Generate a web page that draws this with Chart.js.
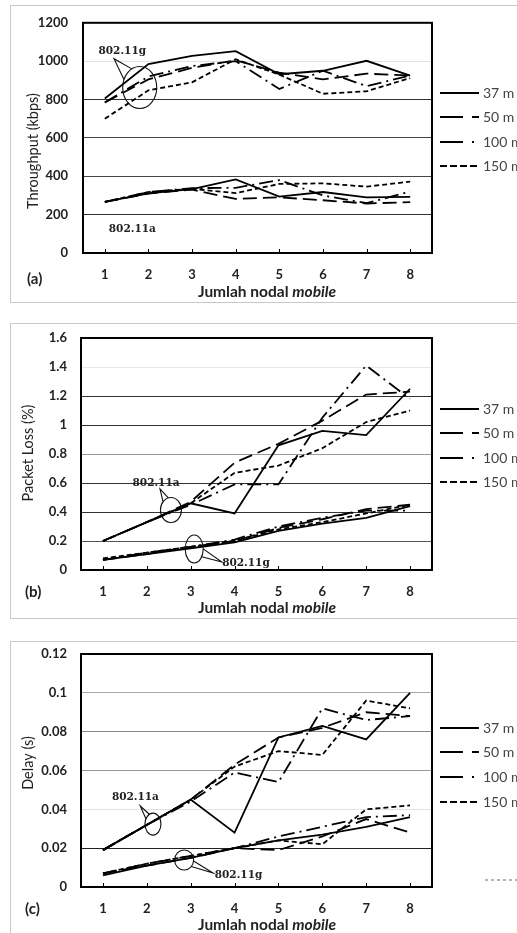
<!DOCTYPE html>
<html><head><meta charset="utf-8">
<script src="https://cdn.jsdelivr.net/npm/chart.js@4/dist/chart.umd.min.js"></script>
<style>
body{margin:0;background:#fff;width:517px;height:933px;overflow:hidden;position:relative;}
.panel{position:absolute;left:10px;width:520px;border:1px solid #c8c8c8;}
canvas{position:absolute;left:0;}
</style></head><body>
<div class="panel" style="top:5px;height:296px"></div>
<div class="panel" style="top:323px;height:294px"></div>
<div class="panel" style="top:641px;height:400px"></div>
<canvas id="cA" width="517" height="302" style="top:0px"></canvas>
<canvas id="cB" width="517" height="310" style="top:310px"></canvas>
<canvas id="cC" width="517" height="303" style="top:630px"></canvas>
<script>
// ---------- DATA ----------
const categories = ['1','2','3','4','5','6','7','8'];
const seriesLabels = ['37 m','50 m','100 m','150 m'];

// (a) Throughput (kbps)
const thrG_37  = [805, 985, 1028, 1052, 932, 950, 1002, 925];
const thrG_50  = [785, 905, 965, 1005, 940, 905, 935, 925];
const thrG_100 = [785, 920, 975, 1000, 855, 950, 870, 925];
const thrG_150 = [700, 848, 890, 1010, 930, 830, 843, 912];
const thrA_37  = [266, 311, 333, 384, 294, 318, 290, 293];
const thrA_50  = [266, 310, 330, 282, 290, 275, 258, 265];
const thrA_100 = [266, 318, 338, 340, 380, 300, 260, 320];
const thrA_150 = [266, 318, 335, 312, 360, 363, 346, 372];

// (b) Packet Loss (%)
const plA_37  = [0.20, 0.33, 0.46, 0.39, 0.86, 0.96, 0.93, 1.25];
const plA_50  = [0.20, 0.33, 0.47, 0.74, 0.87, 1.03, 1.21, 1.23];
const plA_100 = [0.20, 0.33, 0.45, 0.59, 0.59, 1.05, 1.41, 1.18];
const plA_150 = [0.20, 0.33, 0.46, 0.67, 0.72, 0.84, 1.02, 1.10];
const plG_37  = [0.07, 0.11, 0.15, 0.19, 0.27, 0.32, 0.36, 0.44];
const plG_50  = [0.07, 0.11, 0.16, 0.20, 0.29, 0.35, 0.42, 0.45];
const plG_100 = [0.07, 0.12, 0.16, 0.21, 0.30, 0.36, 0.41, 0.41];
const plG_150 = [0.08, 0.12, 0.16, 0.20, 0.28, 0.33, 0.39, 0.45];

// (c) Delay (s)
const dlA_37  = [0.019, 0.032, 0.045, 0.028, 0.077, 0.083, 0.076, 0.100];
const dlA_50  = [0.019, 0.032, 0.045, 0.063, 0.077, 0.082, 0.090, 0.088];
const dlA_100 = [0.019, 0.032, 0.044, 0.059, 0.054, 0.092, 0.086, 0.088];
const dlA_150 = [0.019, 0.032, 0.045, 0.062, 0.070, 0.068, 0.096, 0.092];
const dlG_37  = [0.006, 0.011, 0.015, 0.020, 0.024, 0.027, 0.031, 0.036];
const dlG_50  = [0.007, 0.011, 0.015, 0.020, 0.019, 0.026, 0.035, 0.028];
const dlG_100 = [0.007, 0.012, 0.016, 0.020, 0.026, 0.031, 0.036, 0.037];
const dlG_150 = [0.007, 0.012, 0.016, 0.020, 0.024, 0.022, 0.040, 0.042];

const yTicksThroughput = [0, 200, 400, 600, 800, 1000, 1200];
const yTicksLoss = [0, 0.2, 0.4, 0.6, 0.8, 1, 1.2, 1.4, 1.6];
const yTicksDelay = [0, 0.02, 0.04, 0.06, 0.08, 0.1, 0.12];

// ---------- STYLE ----------
const lineDash = [[], [14, 6], [14, 5, 2, 5], [5, 3]];
const legendDash = [[], [23, 9], [23, 9, 2, 20], [7, 3]];

const decor = {
  id: 'decor',
  afterDraw(chart, args, o) {
    const ctx = chart.ctx, ca = chart.chartArea, xs = chart.scales.x, ys = chart.scales.y;
    ctx.save();
    // inner category ticks
    ctx.strokeStyle = '#000'; ctx.lineWidth = 1;
    categories.forEach((c, i) => {
      const px = Math.round(xs.getPixelForValue(i)) + 0.5;
      ctx.beginPath(); ctx.moveTo(px, ca.bottom); ctx.lineTo(px, ca.bottom - 4); ctx.stroke();
    });
    // frame
    ctx.lineWidth = 2;
    ctx.strokeRect(ca.left, ca.top, ca.right - ca.left, ca.bottom - ca.top);
    // y title
    ctx.save();
    ctx.translate(o.yTitle.x, o.yTitle.y); ctx.rotate(-Math.PI / 2);
    ctx.font = '14.5px Lato'; ctx.fillStyle = '#222'; ctx.textAlign = 'center'; ctx.textBaseline = 'middle';
    ctx.fillText(o.yTitle.text, 0, 0);
    ctx.restore();
    // x title
    ctx.fillStyle = '#222'; ctx.textBaseline = 'middle'; ctx.textAlign = 'left';
    const f1 = 'bold 15.5px Lato', f2 = 'italic bold 15.5px Lato';
    const p1 = 'Jumlah nodal ', p2 = 'mobile';
    ctx.font = f1; const w1 = ctx.measureText(p1).width;
    ctx.font = f2; const w2 = ctx.measureText(p2).width;
    const sx = o.xTitle.x - (w1 + w2) / 2;
    ctx.font = f1; ctx.fillText(p1, sx, o.xTitle.y);
    ctx.font = f2; ctx.fillText(p2, sx + w1, o.xTitle.y);
    // panel label
    ctx.font = 'bold 15px Lato'; ctx.fillText(o.panel.text, o.panel.x, o.panel.y);
    // legend
    seriesLabels.forEach((lab, i) => {
      const y = o.legendY[i];
      ctx.strokeStyle = '#000'; ctx.lineWidth = 2.2; ctx.setLineDash(legendDash[i]);
      ctx.beginPath(); ctx.moveTo(440, y); ctx.lineTo(479, y); ctx.stroke();
      ctx.setLineDash([]);
      ctx.font = '14px Lato'; ctx.fillStyle = '#444'; ctx.textAlign = 'left';
      ctx.fillText(lab, 483, y);
    });
    if (o.extra) {
      ctx.strokeStyle = '#666'; ctx.lineWidth = 1; ctx.setLineDash([3, 3]);
      ctx.beginPath(); ctx.moveTo(485, o.extra); ctx.lineTo(517, o.extra); ctx.stroke();
      ctx.setLineDash([]);
    }
    // annotations
    (o.notes || []).forEach(n => {
      ctx.fillStyle = '#222'; ctx.font = 'bold 10.5px "DejaVu Serif"'; ctx.textAlign = 'center'; ctx.textBaseline = 'middle';
      ctx.fillText(n.text, xs.getPixelForValue(n.tx), ys.getPixelForValue(n.ty));
      if (n.ex !== undefined) {
        const cx = xs.getPixelForValue(n.ex), cy = ys.getPixelForValue(n.ey);
        ctx.strokeStyle = '#111'; ctx.lineWidth = 1.1;
        ctx.beginPath(); ctx.ellipse(cx, cy, n.rx, n.ry, 0, 0, Math.PI * 2); ctx.stroke();
        const ax = xs.getPixelForValue(n.ax), ay = ys.getPixelForValue(n.ay);
        const th = Math.atan2((ay - cy) / n.ry, (ax - cx) / n.rx);
        ctx.beginPath();
        ctx.moveTo(cx + n.rx * Math.cos(th - n.w), cy + n.ry * Math.sin(th - n.w));
        ctx.lineTo(ax, ay);
        ctx.lineTo(cx + n.rx * Math.cos(th + n.w), cy + n.ry * Math.sin(th + n.w));
        ctx.stroke();
      }
    });
    ctx.restore();
  }
};

function makeChart(id, cfg) {
  const groups = [cfg.g, cfg.a];
  const datasets = [];
  groups.forEach((grp, gi) => grp.forEach((arr, i) => datasets.push({
    label: seriesLabels[i] + (gi ? ' a' : ' g'),
    data: arr,
    borderColor: '#000',
    backgroundColor: '#000',
    borderWidth: 1.8,
    borderDash: lineDash[i],
    pointRadius: 0,
    tension: 0,
    fill: false
  })));
  return new Chart(document.getElementById(id), {
    type: 'line',
    data: { labels: categories, datasets },
    options: {
      responsive: false, animation: false,
      layout: { padding: { left: 0, top: cfg.top, right: 517 - cfg.right, bottom: 0 } },
      plugins: {
        legend: { display: false }, tooltip: { enabled: false },
        decor: cfg.decor
      },
      scales: {
        x: {
          offset: true,
          afterFit: s => { s.height = cfg.xHeight; },
          grid: { display: false, drawTicks: false },
          border: { display: false },
          ticks: { font: { family: 'Lato', weight: 'bold', size: 13 }, color: '#222', padding: 14, maxRotation: 0, autoSkip: false }
        },
        y: {
          min: cfg.ticks[0], max: cfg.ticks[cfg.ticks.length - 1],
          afterBuildTicks: s => { s.ticks = cfg.ticks.map(v => ({ value: v })); },
          afterFit: s => { s.width = cfg.left; },
          grid: { drawTicks: false, lineWidth: 1, color: c => (c.tick && cfg.grid[c.tick.value] !== undefined) ? cfg.grid[c.tick.value] : '#444' },
          border: { display: false },
          ticks: { font: { family: 'Lato', weight: 'bold', size: 13 }, color: '#222', padding: cfg.yPad, callback: v => String(v) }
        }
      }
    },
    plugins: [decor]
  });
}

makeChart('cA', {
  g: [thrG_37, thrG_50, thrG_100, thrG_150],
  a: [thrA_37, thrA_50, thrA_100, thrA_150],
  ticks: yTicksThroughput, top: 22, right: 432, left: 83, xHeight: 49, yPad: 15,
  grid: { 200: '#333', 400: '#444', 600: '#444', 800: '#333', 1000: '#e0e0e0' },
  decor: {
    yTitle: { text: 'Throughput (kbps)', x: 33, y: 151 },
    xTitle: { x: 267, y: 292 },
    panel: { text: '(a)', x: 27, y: 279 },
    legendY: [93, 117, 142, 166],
    notes: [
      { text: '802.11g', tx: 0.40, ty: 1054, ex: 0.80, ey: 863, rx: 17, ry: 21, ax: 0.21, ay: 1013, w: 0.35 },
      { text: '802.11a', tx: 0.63, ty: 126 }
    ]
  }
});

makeChart('cB', {
  g: [plG_37, plG_50, plG_100, plG_150],
  a: [plA_37, plA_50, plA_100, plA_150],
  ticks: yTicksLoss, top: 28, right: 432, left: 81, xHeight: 50, yPad: 14,
  grid: { 0.2: '#555', 0.4: '#333', 0.6: '#333', 0.8: '#999', 1: '#333', 1.2: '#333', 1.4: '#e6e6e6' },
  decor: {
    yTitle: { text: 'Packet Loss (%)', x: 28, y: 143 },
    xTitle: { x: 267, y: 298 },
    panel: { text: '(b)', x: 25, y: 282 },
    legendY: [99, 123, 148, 172],
    notes: [
      { text: '802.11a', tx: 1.21, ty: 0.60, ex: 1.55, ey: 0.414, rx: 10.5, ry: 12.5, ax: 1.30, ay: 0.56, w: 0.3 },
      { text: '802.11g', tx: 3.26, ty: 0.048, ex: 2.08, ey: 0.145, rx: 9, ry: 14, ax: 2.71, ay: 0.055, w: 0.3 }
    ]
  }
});

makeChart('cC', {
  g: [dlG_37, dlG_50, dlG_100, dlG_150],
  a: [dlA_37, dlA_50, dlA_100, dlA_150],
  ticks: yTicksDelay, top: 24, right: 432, left: 81, xHeight: 46, yPad: 14,
  grid: { 0.02: '#222', 0.04: '#e2e2e2', 0.06: '#999', 0.08: '#888', 0.1: '#aaa' },
  decor: {
    yTitle: { text: 'Delay (s)', x: 28, y: 133 },
    xTitle: { x: 267, y: 295 },
    panel: { text: '(c)', x: 25, y: 279 },
    legendY: [98, 122, 147, 172],
    extra: 250,
    notes: [
      { text: '802.11a', tx: 0.74, ty: 0.0464, ex: 1.14, ey: 0.0324, rx: 8, ry: 11, ax: 0.85, ay: 0.0417, w: 0.3 },
      { text: '802.11g', tx: 3.09, ty: 0.0062, ex: 1.85, ey: 0.0139, rx: 9.5, ry: 10, ax: 2.51, ay: 0.0072, w: 0.3 }
    ]
  }
});
</script>
</body></html>
